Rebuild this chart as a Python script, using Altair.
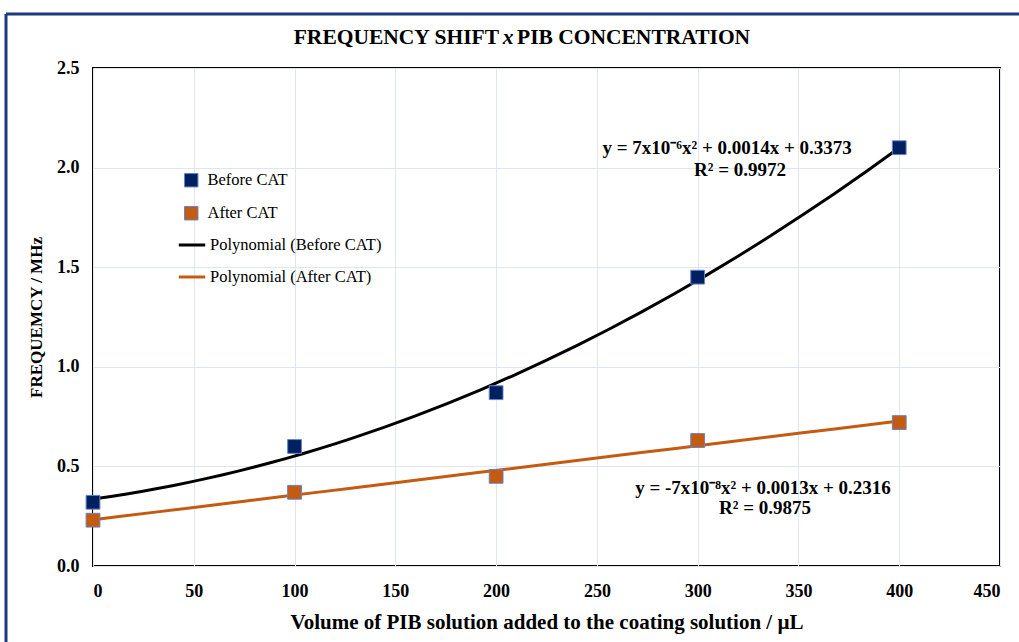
import altair as alt
import pandas as pd

# Measured frequency shift (MHz) against PIB volume (µL)
volume = [0, 100, 200, 300, 400]
before_cat = [0.32, 0.60, 0.87, 1.45, 2.10]
after_cat = [0.23, 0.37, 0.45, 0.63, 0.72]

series_names = ["Before CAT", "After CAT"]
series_colors = ["#002060", "#C55A11"]
trend_names = ["Polynomial (Before CAT)", "Polynomial (After CAT)"]
trend_colors = ["#000000", "#C55A11"]

x_ticks = [0, 50, 100, 150, 200, 250, 300, 350, 400, 450]
y_ticks = [0.0, 0.5, 1.0, 1.5, 2.0, 2.5]

# Fit equations shown beside each curve
eq_text = ["y = 7x10⁻⁶x² + 0.0014x + 0.3373", "R² = 0.9972",
           "y = -7x10⁻⁸x² + 0.0013x + 0.2316", "R² = 0.9875"]
eq_x = [314.6, 321.0, 332.4, 333.4]
eq_y = [2.098, 1.988, 0.39, 0.291]

points = pd.DataFrame({
    "volume": volume * 2,
    "freq": before_cat + after_cat,
    "series": [series_names[0]] * len(volume) + [series_names[1]] * len(volume),
})
labels = pd.DataFrame({"x": eq_x, "y": eq_y, "text": eq_text})

W, H = 907, 498
SERIF = "Liberation Serif"
axis_style = dict(labelFont=SERIF, labelFontSize=18, labelFontWeight="bold", labelColor="#000",
                  titleFont=SERIF, titleFontWeight="bold", titleColor="#000",
                  ticks=False, domain=False, grid=True, gridColor="#dfe5f1", gridWidth=1)

x_enc = alt.X("volume:Q", scale=alt.Scale(domain=[0, 450], nice=False),
              axis=alt.Axis(values=x_ticks, title="Volume of PIB solution added to the coating solution / µL",
                            labelPadding=16, titlePadding=11, titleFontSize=21, **axis_style))
y_enc = alt.Y("freq:Q", scale=alt.Scale(domain=[0, 2.5], nice=False),
              axis=alt.Axis(values=y_ticks, format=".1f", title="FREQUEMCY / MHz",
                            labelPadding=14, titlePadding=11, titleFontSize=17, **axis_style))

legend_text = dict(labelFont=SERIF, labelFontSize=16.5, labelColor="#000", labelLimit=400,
                   title=None, padding=0, orient="none")

trend = alt.Chart(points).transform_regression(
    "volume", "freq", method="poly", order=2, groupby=["series"]
).transform_calculate(
    trend="'Polynomial (' + datum.series + ')'"
).mark_line(strokeWidth=3).encode(
    x=x_enc, y=y_enc,
    stroke=alt.Stroke("trend:N", scale=alt.Scale(domain=trend_names, range=trend_colors),
                      legend=alt.Legend(legendX=84, legendY=162, symbolType="stroke", symbolSize=700,
                                        symbolStrokeWidth=3, labelOffset=3, rowPadding=8, **legend_text)),
)

marks = alt.Chart(points).mark_square(size=190, stroke="#6483c8", strokeWidth=1, opacity=1).encode(
    x="volume:Q", y="freq:Q",
    fill=alt.Fill("series:N", scale=alt.Scale(domain=series_names, range=series_colors),
                  legend=alt.Legend(legendX=90, legendY=104, symbolType="square", symbolSize=180,
                                    symbolStrokeColor="#6483c8", symbolStrokeWidth=1, symbolOpacity=1,
                                    labelOffset=8, rowPadding=15, **legend_text)),
)

equations = alt.Chart(labels).mark_text(font=SERIF, fontSize=19, fontWeight="bold", color="#000").encode(
    x="x:Q", y="y:Q", text="text:N"
)

title_df = pd.DataFrame({"t": [0]})
t_style = dict(font=SERIF, fontSize=21.5, fontWeight="bold", color="#000", baseline="middle")
title_a = alt.Chart(title_df).mark_text(align="right", text="FREQUENCY SHIFT", **t_style).encode(
    x=alt.value(406), y=alt.value(-30))
title_b = alt.Chart(title_df).mark_text(align="center", text="x", fontStyle="italic", **t_style).encode(
    x=alt.value(415), y=alt.value(-30))
title_c = alt.Chart(title_df).mark_text(align="left", text="PIB CONCENTRATION", **t_style).encode(
    x=alt.value(424), y=alt.value(-30))

# Dark frame around the whole figure (top and left edges)
frame_top = alt.Chart(title_df).mark_rule(color="#1b3a80", strokeWidth=3).encode(
    x=alt.value(-87), x2=alt.value(940), y=alt.value(-54))
frame_left = alt.Chart(title_df).mark_rule(color="#1b3a80", strokeWidth=3).encode(
    x=alt.value(-87), y=alt.value(-54), y2=alt.value(600))

chart = alt.layer(
    trend, marks, equations, title_a, title_b, title_c, frame_top, frame_left
).resolve_scale(stroke="independent", fill="independent").properties(
    width=W, height=H,
    autosize=alt.AutoSizeParams(type="none"),
    padding={"left": 93, "top": 68, "right": 19, "bottom": 76},
    background="white",
).configure_view(
    stroke="#000", strokeWidth=2
)

chart.save("out.html", embed_options={"renderer": "svg", "actions": False})
